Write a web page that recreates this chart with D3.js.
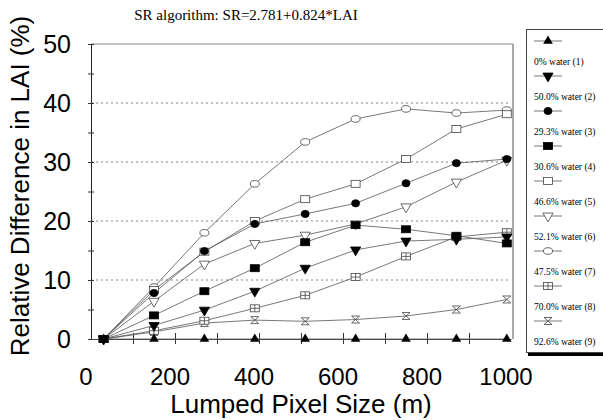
<!DOCTYPE html>
<html lang="en">
<head>
    <meta charset="UTF-8">
    <title>SR algorithm</title>
    <script type="text/javascript" src="https://cdn.jsdelivr.net/npm/d3@7"></script>
    <style type="text/css">
        body { margin: 0; background: #fff; }
        .sans { font-family: Arial, "Liberation Sans", sans-serif; }
        .serif { font-family: "Times New Roman", "Liberation Serif", serif; }
    </style>
</head>
<body>
    <script type="text/javascript">
        //Width and height
        var w = 603;
        var h = 420;

        // pixel sizes (m)
        var pixelSizes = [30, 150, 270, 390, 510, 630, 750, 870, 990];

        var seriesNames = ["0% water (1)", "50.0% water (2)", "29.3% water (3)",
            "30.6% water (4)", "46.6% water (5)", "52.1% water (6)",
            "47.5% water (7)", "70.0% water (8)", "92.6% water (9)"];

        var water1 = [0, 0, 0, 0, 0, 0, 0, 0, 0];
        var water2 = [0, 2.3, 4.9, 8.1, 12.0, 15.1, 16.6, 16.9, 17.3];
        var water3 = [0, 7.8, 14.9, 19.5, 21.2, 23.0, 26.4, 29.8, 30.5];
        var water4 = [0, 4.0, 8.1, 12.0, 16.4, 19.3, 18.6, 17.5, 16.2];
        var water5 = [0, 8.3, 14.8, 20.0, 23.7, 26.3, 30.5, 35.6, 38.1];
        var water6 = [0, 6.4, 12.7, 16.2, 17.6, 19.5, 22.4, 26.6, 30.3];
        var water7 = [0, 8.8, 18.0, 26.3, 33.4, 37.3, 39.0, 38.3, 38.8];
        var water8 = [0, 1.4, 3.1, 5.2, 7.4, 10.5, 14.0, 17.3, 18.1];
        var water9 = [0, 1.2, 2.7, 3.2, 3.0, 3.3, 3.9, 5.0, 6.7];

        var xTicks = [0, 200, 400, 600, 800, 1000];
        var yTicks = [0, 10, 20, 30, 40, 50];

        var allSeries = [water1, water2, water3, water4, water5,
            water6, water7, water8, water9];
        // marker kind for each series
        var markers = ["triUp", "triDown", "circle", "square", "openSquare",
            "openTriDown", "openCircle", "plusSquare", "hourglass"];

        var xScale = d3.scaleLinear()
            .domain([0, 1000])
            .range([91, 511]);

        var yScale = d3.scaleLinear()
            .domain([0, 50])
            .range([339, 44]);

        var svg = d3.select("body")
            .append("svg")
            .attr("width", w)
            .attr("height", h);

        //draw one marker into group g
        function drawMarker(g, kind) {
            var filled = ["triUp", "triDown", "circle", "square"].indexOf(kind) >= 0;
            var fill = filled ? "#000" : "#fff";
            var stroke = filled ? "#000" : "#444";
            if (kind == "triUp") {
                g.append("path").attr("d", d3.symbol(d3.symbolTriangle, 40)())
                    .attr("fill", fill);
            } else if (kind == "triDown" || kind == "openTriDown") {
                g.append("path").attr("d", d3.symbol(d3.symbolTriangle, 45)())
                    .attr("transform", "rotate(180)")
                    .attr("fill", fill).attr("stroke", stroke).attr("stroke-width", 0.8);
            } else if (kind == "circle" || kind == "openCircle") {
                g.append("ellipse").attr("rx", kind == "circle" ? 4 : 4.5).attr("ry", kind == "circle" ? 3.6 : 3.3)
                    .attr("fill", fill).attr("stroke", stroke).attr("stroke-width", 0.8);
            } else if (kind == "square" || kind == "openSquare" || kind == "plusSquare") {
                g.append("rect").attr("x", -4.5).attr("y", -3.5).attr("width", 9).attr("height", 7)
                    .attr("fill", fill).attr("stroke", stroke).attr("stroke-width", 0.8);
                if (kind == "plusSquare") {
                    g.append("path").attr("d", "M-4.5,0H4.5M0,-3.5V3.5")
                        .attr("stroke", stroke).attr("stroke-width", 0.8);
                }
            } else if (kind == "hourglass") {
                g.append("path").attr("d", "M-4,-3.5H4L-4,3.5H4Z")
                    .attr("fill", "#fff").attr("stroke", stroke).attr("stroke-width", 0.8);
            }
        }

        //Gridlines
        svg.append("g")
            .selectAll("line")
            .data([10, 20, 30, 40])
            .enter()
            .append("line")
            .attr("x1", xScale(0))
            .attr("x2", xScale(1000))
            .attr("y1", function(d) { return yScale(d); })
            .attr("y2", function(d) { return yScale(d); })
            .attr("stroke", "#666")
            .attr("stroke-width", 0.8)
            .attr("stroke-dasharray", "2,3");

        //Frame: top and right border
        svg.append("line")
            .attr("x1", xScale(0)).attr("x2", xScale(1000) + 2)
            .attr("y1", yScale(50)).attr("y2", yScale(50))
            .attr("stroke", "#888").attr("stroke-width", 1.2);
        svg.append("line")
            .attr("x1", xScale(1000) + 2).attr("x2", xScale(1000) + 2)
            .attr("y1", yScale(50)).attr("y2", yScale(0))
            .attr("stroke", "#555").attr("stroke-width", 1);

        //Y axis
        var yAxis = d3.axisLeft(yScale)
            .tickValues(d3.range(0, 51, 5))
            .tickSizeInner(3)
            .tickSizeOuter(0)
            .tickFormat("");
        var yAxisG = svg.append("g")
            .attr("transform", "translate(" + xScale(0) + ",0)")
            .call(yAxis);
        yAxisG.selectAll(".tick line").attr("x2", 3).attr("x1", -3).attr("stroke", "#333");
        yAxisG.select(".domain").attr("stroke", "#222");

        svg.append("g")
            .selectAll("text")
            .data(yTicks)
            .enter()
            .append("text")
            .attr("class", "sans")
            .attr("x", 71)
            .attr("y", function(d) { return yScale(d) + 9; })
            .attr("text-anchor", "end")
            .attr("font-size", 25)
            .text(function(d) { return d; });

        //X axis
        var xAxis = d3.axisBottom(yScale.copy().domain([0, 1000]).range([91, 511]))
            .tickValues(d3.range(100, 1000, 100))
            .tickSizeInner(5)
            .tickSizeOuter(0)
            .tickFormat("");
        var xAxisG = svg.append("g")
            .attr("transform", "translate(0," + yScale(0) + ")")
            .call(xAxis);
        xAxisG.selectAll(".tick line").attr("y1", -6).attr("stroke", "#333");
        xAxisG.select(".domain").attr("stroke", "#444");

        svg.append("g")
            .selectAll("text")
            .data(xTicks)
            .enter()
            .append("text")
            .attr("class", "sans")
            .attr("x", function(d) { return xScale(d) - 5; })
            .attr("y", 385)
            .attr("text-anchor", "middle")
            .attr("font-size", 24)
            .text(function(d) { return d; });

        //Axis titles
        svg.append("text")
            .attr("class", "sans")
            .attr("x", 301)
            .attr("y", 413)
            .attr("text-anchor", "middle")
            .attr("font-size", 26)
            .text("Lumped Pixel Size (m)");

        svg.append("text")
            .attr("class", "sans")
            .attr("transform", "translate(29,186) rotate(-90)")
            .attr("text-anchor", "middle")
            .attr("font-size", 26)
            .text("Relative Difference in LAI (%)");

        //Chart title
        svg.append("text")
            .attr("class", "serif")
            .attr("x", 246)
            .attr("y", 20)
            .attr("text-anchor", "middle")
            .attr("font-size", 15)
            .text("SR algorithm: SR=2.781+0.824*LAI");

        //Lines and markers, filled square drawn last
        var drawOrder = [8, 7, 6, 5, 4, 0, 1, 2, 3];
        var line = d3.line()
            .x(function(d, i) { return xScale(pixelSizes[i]); })
            .y(function(d) { return yScale(d); });

        drawOrder.forEach(function(s) {
            svg.append("path")
                .datum(allSeries[s])
                .attr("d", line)
                .attr("fill", "none")
                .attr("stroke", "#555")
                .attr("stroke-width", 0.8);
        });
        drawOrder.forEach(function(s) {
            svg.append("g")
                .selectAll("g")
                .data(allSeries[s])
                .enter()
                .append("g")
                .attr("transform", function(d, i) {
                    return "translate(" + xScale(pixelSizes[i]) + "," + yScale(d) + ")";
                })
                .each(function() { drawMarker(d3.select(this), markers[s]); });
        });

        //Legend
        var legend = svg.append("g");
        legend.append("rect")
            .attr("x", 526.5).attr("y", 29.5)
            .attr("width", 90).attr("height", 323)
            .attr("fill", "#fff")
            .attr("stroke", "#444")
            .attr("stroke-width", 1);
        legend.append("line")
            .attr("x1", 528).attr("x2", 603)
            .attr("y1", 354.5).attr("y2", 354.5)
            .attr("stroke", "#000").attr("stroke-width", 3);

        var legendY = d3.scaleLinear()
            .domain([0, 8])
            .range([41, 321]);

        seriesNames.forEach(function(name, i) {
            var gy = legendY(i);
            legend.append("line")
                .attr("x1", 534).attr("x2", 562)
                .attr("y1", gy).attr("y2", gy)
                .attr("stroke", "#555").attr("stroke-width", 0.8);
            drawMarker(legend.append("g").attr("transform", "translate(548," + gy + ")"), markers[i]);
            legend.append("text")
                .attr("class", "serif")
                .attr("x", 534)
                .attr("y", gy + 24)
                .attr("font-size", 9.5)
                .text(name);
        });
    </script>
</body>
</html>
